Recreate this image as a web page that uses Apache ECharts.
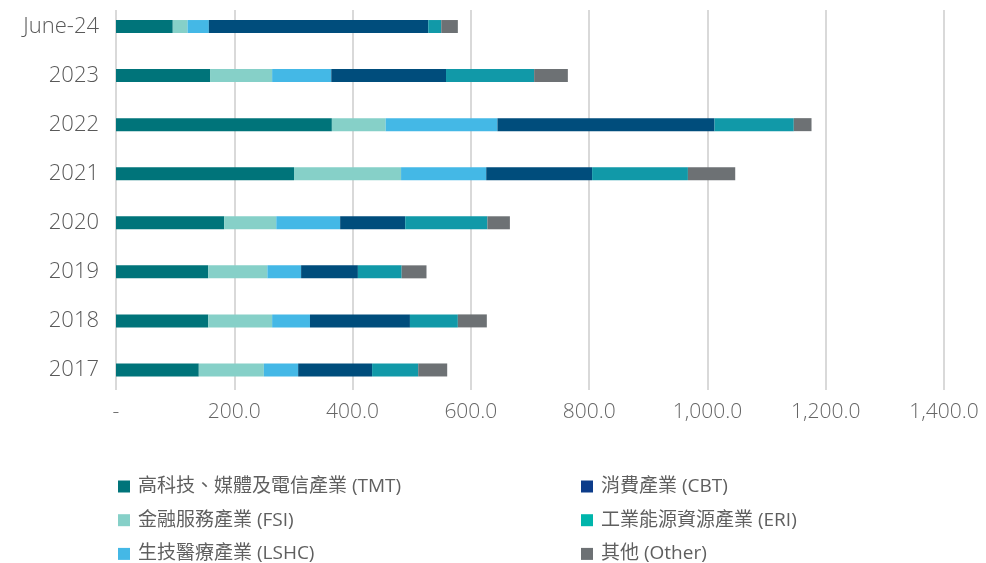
<!DOCTYPE html>
<html>
<head>
<meta charset="utf-8">
<script src="https://cdn.jsdelivr.net/npm/echarts@6/dist/echarts.min.js"></script>
<style>
  html, body { margin: 0; padding: 0; background: #fff; }
  #chart { width: 986px; height: 563px; }
</style>
</head>
<body>
<div id="chart"></div>
<script>
// Periods, bottom to top as displayed
const periods = ['2017', '2018', '2019', '2020', '2021', '2022', '2023', 'June-24'];

// Sector names (stack order, left to right)
const sectorNames = [
  '高科技、媒體及電信產業 (TMT)',
  '金融服務產業 (FSI)',
  '生技醫療產業 (LSHC)',
  '消費產業 (CBT)',
  '工業能源資源產業 (ERI)',
  '其他 (Other)'
];

// Values per sector, aligned with periods
const tmt   = [140, 156, 156, 183, 301, 365, 159, 96];
const fsi   = [110, 108, 100,  88, 181,  91, 105, 25];
const lshc  = [ 58,  64,  57, 108, 144, 189, 100, 36];
const cbt   = [125, 169,  96, 110, 179, 367, 194, 371];
const eri   = [ 78,  81,  74, 139, 162, 134, 149, 22];
const other = [ 49,  49,  42,  38,  80,  30,  57, 28];

const xTicks = [0, 200, 400, 600, 800, 1000, 1200, 1400];

const barColors    = ['#00747A', '#86D0C8', '#44B8E6', '#004D7C', '#1199A8', '#6D7174'];
const legendColors = ['#00747A', '#86D0C8', '#44B8E6', '#0C3C8A', '#00B5AB', '#6D7174'];

const seriesData = [tmt, fsi, lshc, cbt, eri, other];

function fmtTick(v) {
  if (v === 0) return '-';
  return v.toLocaleString('en-US', { minimumFractionDigits: 1, maximumFractionDigits: 1 });
}

const font = '"Open Sans", "Noto Sans CJK TC", sans-serif';
const chart = echarts.init(document.getElementById('chart'), null, { renderer: 'canvas' });

const legendText = {
  fontSize: 19, lineHeight: 19, color: '#5f5f5f', fontFamily: font, padding: [0, 0, 0, 3]
};
function legendItems(idx) {
  return idx.map(i => ({ name: sectorNames[i], itemStyle: { color: legendColors[i] } }));
}
function legendBox(left, idx) {
  return {
    orient: 'vertical', left: left, top: 472, height: 120,
    itemWidth: 12, itemHeight: 12, itemGap: 14.7,
    icon: 'rect', selectedMode: false, textStyle: legendText, data: legendItems(idx)
  };
}

chart.setOption({
  animation: false,
  backgroundColor: '#fff',
  grid: [
    { left: 116, right: 42, top: 2, bottom: 168.5 },
    { left: 116, right: 42, top: 10, bottom: 173 }
  ],
  xAxis: [
    {
      gridIndex: 0, type: 'value', min: 0, max: 1400, interval: 200,
      axisLine: { show: false }, axisTick: { show: false },
      axisLabel: { show: false }, splitLine: { show: false }
    },
    {
      gridIndex: 1, type: 'value', min: 0, max: 1400, interval: 200,
      axisLine: { show: false }, axisTick: { show: false },
      axisLabel: {
        margin: 12, fontSize: 21, color: '#666', fontFamily: font, fontWeight: 300,
        formatter: v => fmtTick(v), customValues: xTicks
      },
      splitLine: { show: true, lineStyle: { color: '#D9D9D9', width: 2 } }
    }
  ],
  yAxis: [
    {
      gridIndex: 0, type: 'category', data: periods,
      axisLine: { show: false }, axisTick: { show: false },
      axisLabel: { margin: 17, fontSize: 22, color: '#595959', fontFamily: font, fontWeight: 300 }
    },
    {
      gridIndex: 1, type: 'category', data: periods,
      axisLine: { show: false }, axisTick: { show: false },
      axisLabel: { show: false }
    }
  ],
  legend: [legendBox(113, [0, 1, 2]), legendBox(576, [3, 4, 5])],
  series: seriesData.map((d, i) => ({
    name: sectorNames[i],
    type: 'bar',
    stack: 'total',
    xAxisIndex: 0,
    yAxisIndex: 0,
    barWidth: 13,
    itemStyle: { color: barColors[i] },
    data: d
  }))
});
</script>
</body>
</html>
